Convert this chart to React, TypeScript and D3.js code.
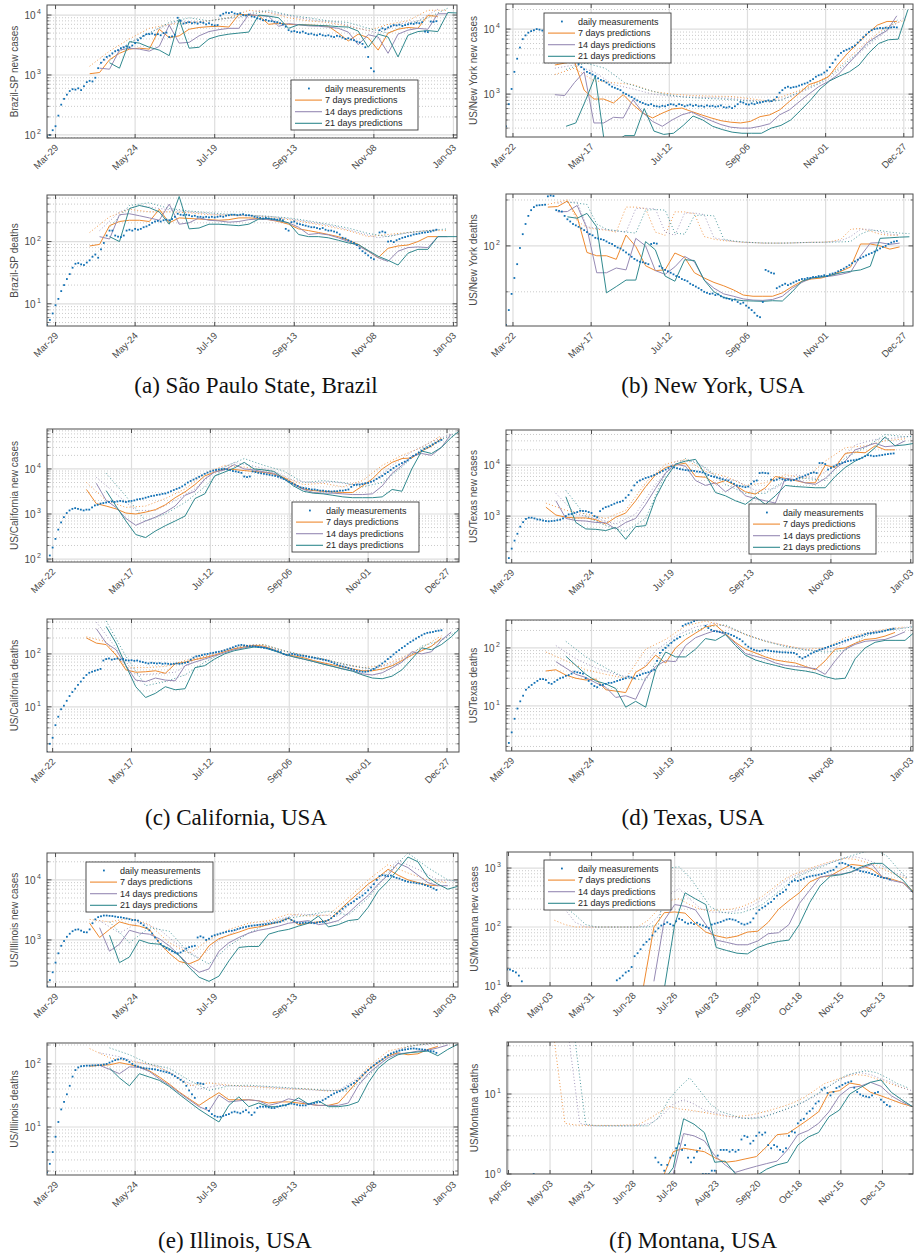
import React from 'react';
import * as d3 from 'd3';

// Daily measurements are listed every other day, starting at each panel's first date.
const OBS_STEP = 2;
// Prediction curves are listed weekly; the dotted upper curves use their own step.
const PRED_STEP = 7;

const LEGEND_LABELS = ['daily measurements', '7 days predictions', '14 days predictions', '21 days predictions'];

// ---------------- (a) São Paulo State, Brazil ----------------
const spStart = '2020-03-23';
const spTicks = ['2020-03-29', '2020-05-24', '2020-07-19', '2020-09-13', '2020-11-08', '2021-01-03'];

const spCasesObs = [95,100,120,140,210,320,400,470,540,580,570,600,560,650,760,800,780,900,1300,1600,1800,2000,2100,2300,2500,2600,2800,2900,3000,2900,3100,3400,3800,4100,4500,4800,4800,4900,4700,4800,4600,5000,5100,4300,4400,4700,9000,8000,7200,7400,7600,7300,7500,7200,7600,7400,7000,7300,6900,6700,6800,9800,10500,11000,10800,11200,10600,10400,10700,10000,9800,10200,9500,9300,8800,8600,8200,8300,8000,7900,7700,7600,7300,7000,6400,5600,5300,5400,5200,5100,5300,5000,4800,4900,4700,4600,4800,4600,4500,4600,4400,4300,4500,4400,4200,4000,4100,3900,3800,3600,3500,3300,2900,2000,1300,1150,null,5600,6000,5800,6200,6500,6800,6700,6900,6600,6800,7000,7200,7100,7400,7300,7600,5300,5200,7800,7700,7900];
const spCases7 = [1050,1100,1800,2300,2700,2800,2700,5800,4200,4500,5800,6200,6400,6500,6300,10300,10000,9800,7000,7300,7000,6900,6800,6700,6500,5000,3700,4800,4200,2600,5000,5800,6200,6000,9800,9500];
const spCases14 = [1300,1250,2600,2800,2700,2500,3000,6800,3400,3500,4500,5300,5700,6000,6000,10200,9800,9500,6500,7200,6900,6600,6500,6300,6000,5200,3200,4700,4300,2300,4800,5600,6000,5800,10500,10500];
const spCases21 = [1600,1300,3600,3400,2900,2600,2100,8500,2800,2900,4000,4500,4800,5000,5200,10000,9600,9000,6000,6900,6800,6700,6600,6400,6300,5400,2900,4800,4300,2000,4600,5300,5500,5300,11000,10800];
const spCases7Hi = [1400,2500,4000,6000,7000,7500,8000,9000,12000,11000,9000,8000,7500,6500,5500,7000,8000,12000,12000];
const spCases14Hi = [1500,2700,4200,6000,8000,7500,8500,9000,12000,10500,9000,8000,7500,6000,5000,7000,8000,12500];
const spCases21Hi = [1700,3500,5000,7500,9000,8000,9000,10000,12000,10000,9000,8000,7500,6000,5000,7000,9000,13000];
const spCasesPredFrom = [30, 37, 44];

const spDeathsObs = [4.6,5.5,7,9.5,12,16,20,25,30,38,44,45,43,42,46,50,57,62,55,75,95,125,150,150,125,120,118,125,150,155,150,160,155,160,170,175,185,200,210,215,210,220,225,220,230,250,280,270,265,270,265,255,260,250,250,245,250,245,250,245,250,255,250,260,265,270,270,265,270,275,265,265,260,250,245,240,235,240,235,230,230,225,230,220,160,150,205,210,195,190,185,180,175,170,170,165,160,165,155,150,150,145,140,130,115,112,105,100,95,88,78,70,65,60,55,52,null,140,145,140,100,102,98,105,110,115,118,122,125,130,132,135,138,140,142,145,150,155];
const spDeaths7 = [85,90,180,210,220,220,210,330,200,240,235,230,225,220,225,240,240,235,225,210,190,160,150,140,130,120,105,90,70,55,78,85,88,100,120,120];
const spDeaths14 = [120,110,270,280,260,240,220,400,190,200,240,220,215,205,210,225,230,225,215,200,170,130,135,128,115,100,85,70,55,48,70,80,82,80,120,120];
const spDeaths21 = [120,100,340,380,350,300,190,530,160,165,190,190,185,180,190,230,235,220,200,130,120,120,115,105,95,90,72,58,50,42,65,75,75,120,120,120];
const spDeaths7Hi = [140,250,330,300,300,290,270,265,260,250,225,200,175,150,120,130,140,150,150];
const spDeaths14Hi = [150,300,380,340,310,290,270,265,260,245,220,195,170,140,115,130,145,155];
const spDeaths21Hi = [170,380,420,340,310,290,275,265,255,240,215,190,165,135,120,140,150,160];
const spDeathsPredFrom = [30, 37, 44];

// ---------------- (b) New York, USA ----------------
const nyStart = '2020-03-17';
const nyTicks = ['2020-03-22', '2020-05-17', '2020-07-12', '2020-09-06', '2020-11-01', '2020-12-27'];

const nyCasesObs = [320,700,1200,2200,3500,5200,7000,8000,8800,9300,9600,10000,9800,9500,9000,8500,8000,7400,6800,6200,5600,5000,4500,4000,3600,3200,2900,2600,2400,2200,2100,2000,1900,1750,1650,1600,1500,1400,1300,1250,1200,1150,1050,1000,950,900,850,800,760,730,700,680,700,660,650,640,660,650,680,700,690,660,700,680,650,670,690,660,680,650,660,640,670,650,660,640,650,670,630,620,640,610,650,700,760,740,700,690,720,700,730,740,760,780,800,780,820,900,1050,1150,1250,1300,1250,1280,1300,1350,1400,1450,1500,1600,1700,1850,1950,2000,2150,2300,2600,3000,3400,3900,4300,4600,4800,5000,5300,5600,6200,6800,7500,8200,9000,9600,10000,10200,10400,10300,10500,10400,10600,10700,10600];
const nyCases7 = [2800,3000,3200,1150,840,840,730,980,690,510,430,510,590,610,540,480,430,390,370,360,380,450,480,570,770,1030,1400,1570,1840,2900,4300,6000,8500,11500,13100,13100];
const nyCases14 = [980,950,1500,2200,360,360,440,430,820,520,380,320,400,480,530,450,390,340,310,300,300,320,350,480,570,760,1000,1300,1570,2000,2900,4200,6200,7800,9500,16000];
const nyCases21 = [320,360,800,1900,150,180,230,230,600,270,240,250,330,460,400,320,285,260,250,250,250,300,330,400,560,800,1200,1600,1900,2200,2800,4300,6000,6850,7000,20000];
const nyCases7Hi = [2000,2500,1600,1500,1400,1100,1000,950,930,920,850,780,1000,1300,1900,3500,6500,11000,14000];
const nyCases14Hi = [2500,2800,2200,1400,1200,1000,930,900,880,860,800,750,900,1200,1700,3000,5500,9500,16000];
const nyCases21Hi = [2400,3000,2500,1500,1200,1000,900,860,840,800,760,800,1100,1500,2500,4500,8000,14000];
const nyCasesPredFrom = [35, 35, 43];

const nyDeathsObs = [1.9,4,9,20,40,90,180,300,450,600,700,760,770,780,790,1200,1250,1220,600,580,560,450,380,340,300,280,260,240,220,200,180,170,150,145,140,135,125,115,110,100,92,88,80,72,65,58,52,48,45,44,42,40,110,115,112,36,33,30,28,26,24,22,21,19,18,17,15,14,13,12,11,10,9.5,9,9.2,8.5,8.8,8,7.5,7.2,7,6.5,6.8,6,5.5,5.8,5,4.5,4,3.5,3,2.8,6,30,28,26,25,12,13,14,15,14,15,16,17,18,19,19,20,20,21,21,22,22,23,22,24,25,26,28,30,32,35,38,42,46,50,54,58,62,66,70,75,80,88,95,100,110,118,124,128];
const nyDeaths7 = [700,720,950,430,72,61,61,51,172,97,37,29,30,70,56,26,20,16,13.5,11,8.5,8,8,8,9.5,13,17,19,20,23,28,35,110,110,100,85,95];
const nyDeaths14 = [550,560,760,240,26,26,33,30,146,100,29,24,35,59,45,18,12,9,8,7,6.6,6.5,6.8,8,12,16,20,21,22,24,27,60,115,118,108,115];
const nyDeaths21 = [430,400,510,260,9.5,13,18,18,124,82,22,17,50,48,18,10,7.5,6.8,6.4,6.3,6.2,6.4,6.3,10,17,20,21,23,26,28,30,36,146,150,155,158];
const nyDeaths7Hi = [800,900,1000,350,250,230,220,200,700,700,650,200,170,550,550,500,160,140,130,125,120,118,115,115,115,116,118,120,120,125,140,230,240,210,180,170,170];
const nyDeaths14Hi = [850,900,900,260,240,225,210,200,650,660,640,200,170,520,520,480,150,135,125,120,118,115,115,115,116,118,120,120,122,130,160,230,230,200,180,175];
const nyDeaths21Hi = [900,850,800,300,230,215,200,190,600,620,600,190,180,460,470,450,140,128,122,118,116,115,115,116,118,119,120,121,122,125,180,220,215,200,190,185];
const nyDeathsPredFrom = [30, 37, 44];
// this axis shows a single labelled decade
const nyDeathsLabelled = [100];
const nyDeathsMinorGrid = [10, 1000];

// ---------------- (c) California, USA ----------------
const caStart = '2020-03-18';
const caTicks = ['2020-03-22', '2020-05-17', '2020-07-12', '2020-09-06', '2020-11-01', '2020-12-27'];

const caCasesObs = [90,120,180,280,450,650,850,1050,1200,1300,1350,1300,1250,1200,1250,1250,1400,1550,1600,1700,1750,1800,1850,1900,1850,1900,1950,1900,1850,1900,1950,2000,2100,2150,2200,2300,2400,2500,2550,2650,2700,2800,2850,3000,3200,3400,3600,3800,4100,4500,5000,5400,5800,6200,6700,7200,7800,8300,8800,9200,9500,9700,9900,10000,9800,9500,9000,8800,8500,8200,6800,6600,6800,8800,8500,8200,8000,7800,7600,7400,7200,7000,6700,6400,6000,5600,5200,4800,4500,4200,3900,3800,3700,3600,3500,3500,3400,3300,3300,3200,3200,3150,3200,3200,3300,3300,3400,3500,4000,4400,4500,4500,4600,4800,4900,5200,5500,6000,6500,7000,7800,8500,9500,10500,11500,12500,13500,14500,15500,17500,19500,21000,23000,25500,28000,30000,32000,35000,38000,41000,44000];
const caCases7 = [3500,1700,1500,1300,1050,1000,1100,1250,1600,2300,3100,4500,7000,8500,10000,9700,9200,8800,8400,7700,6500,4800,3600,3300,3200,3100,3000,3000,4200,6000,10000,14000,17000,17500,25000,32000,48000];
const caCases14 = [4800,2000,1400,800,560,700,850,1100,1500,2600,3200,6000,8500,9500,12500,10000,9500,8600,8000,6000,4500,3500,3000,2900,2900,2800,2700,2700,2800,4200,8000,12000,19000,22000,20000,30000,60000];
const caCases21 = [3300,1500,700,350,300,420,550,700,900,2200,2800,7000,8500,10500,14000,10000,9500,8800,6200,4200,3200,2900,2800,2600,2400,2300,2300,2300,2400,3500,3200,10000,25000,22000,30000,50000,75000];
const caCases7Hi = [5000,2000,1400,1500,2200,3600,8000,12000,11000,9500,6500,4500,4800,4000,5500,12000,20000,30000,55000];
const caCases14Hi = [6500,2800,1200,1200,2000,3600,9000,14000,11500,9000,5500,5000,5200,4500,5000,12000,24000,40000,60000];
const caCases21Hi = [8000,2500,700,1000,1800,4000,11000,17000,12000,9000,5000,5500,5000,4000,5000,11000,28000,45000,70000];
const caCasesPredFrom = [28, 35, 42];

const caDeathsObs = [1.4,2.0,2.6,4.5,6.5,9,10.5,13,16,19,22,26,30,35,40,44,46,48,50,52,75,80,82,78,80,82,78,80,76,75,76,74,75,72,70,68,66,68,67,66,67,65,66,65,64,65,66,65,66,68,70,78,85,90,92,95,98,100,103,105,108,110,113,117,122,127,133,140,145,148,145,142,140,140,138,135,133,130,128,125,120,116,112,108,100,96,98,100,98,95,93,92,90,88,86,84,82,80,78,76,74,70,66,63,60,58,56,54,52,50,48,47,46,46,47,49,52,56,60,66,72,80,88,98,108,118,130,140,155,168,180,195,210,225,240,250,255,260,270,275,280];
const caDeaths7 = [200,160,150,95,50,45,46,48,43,65,70,78,85,95,110,125,135,145,140,120,100,92,85,75,68,62,57,52,48,48,52,60,75,95,115,140,200];
const caDeaths14 = [300,160,120,60,32,30,35,32,31,60,70,80,92,105,120,130,140,135,118,98,88,80,72,65,58,52,48,42,40,44,55,70,110,100,110,180,260];
const caDeaths21 = [330,160,60,24,15,18,24,21,22,55,60,80,100,115,125,135,132,115,100,88,80,72,64,58,52,47,40,35,34,38,50,80,130,120,150,210,320];
const caDeaths7Hi = [210,170,55,55,58,75,90,120,145,150,115,95,80,65,55,60,85,130,220];
const caDeaths14Hi = [400,130,40,42,45,78,100,130,150,130,100,85,70,58,52,65,100,140,250];
const caDeaths21Hi = [420,90,25,30,40,70,110,140,150,115,95,80,65,55,50,70,140,180,300];
const caDeathsPredFrom = [28, 35, 42];

// ---------------- (d) Texas, USA ----------------
const txStart = '2020-03-25';
const txTicks = ['2020-03-29', '2020-05-24', '2020-07-19', '2020-09-13', '2020-11-08', '2021-01-03'];

const txCasesObs = [120,150,230,330,450,620,760,880,930,930,900,860,850,820,800,790,800,810,830,850,900,1000,1080,1100,1150,1200,1270,1260,1250,1200,1150,1000,950,1250,1400,1500,1550,1650,1750,1850,1900,2000,2300,2600,3200,4000,4600,5000,5300,5600,5800,6100,6400,6800,7200,7700,8200,8800,9500,9000,8700,8400,8200,8000,7900,7800,7700,7500,7400,7200,6800,6400,6100,5900,5700,5500,5300,5100,5000,4600,4300,4000,3900,3800,3700,3800,4300,4800,5000,7000,7100,7000,6900,5200,5000,5200,5500,5300,5100,5200,5000,5100,5400,5700,5900,6300,6600,7000,7200,7000,11000,11000,10500,8200,8800,9400,10000,10600,11000,11500,12000,12300,12500,12800,13300,14000,15000,15700,15400,15000,15200,15500,15800,16200,16500,16800,17000];
const txCases7 = [1500,1050,950,920,920,850,700,950,1150,2000,3800,6500,9000,10000,11000,6000,5800,4300,5000,4000,3000,2700,3600,6000,5500,5000,4500,4500,10000,9000,17000,18000,17500,24000,20000,20000];
const txCases14 = [2000,900,820,800,750,740,560,750,900,1700,3500,7000,10500,9500,5000,4000,4500,3000,4000,2500,2200,2000,1800,5500,5200,4500,4200,5500,8500,12000,20000,23000,27000,23000,24000,30000];
const txCases21 = [2400,750,560,550,520,600,350,620,650,2300,5500,10500,12000,13000,6500,2900,2500,2000,1700,2400,1700,2500,4000,3800,3700,3600,3600,6000,9000,12000,15000,22000,36000,24000,25000,27000];
const txCases7Hi = [1800,1300,1100,900,1300,4500,10500,13000,7500,6000,4000,4500,6500,5500,12000,22000,24000,30000,33000];
const txCases14Hi = [2800,1100,900,700,1100,4200,12000,12000,6000,5000,3200,3500,6500,5500,10000,25000,32000,34000,38000];
const txCases21Hi = [3200,1000,650,500,900,7000,13500,9000,4200,2800,2800,5000,5500,5000,14000,22000,40000,36000,38000];
const txCasesPredFrom = [28, 35, 42];

const txDeathsObs = [1.6,2.3,3.5,6,9,12,15,19,21,23,25,27,29,29,28,25,24,26,28,30,31,33,34,36,39,38,37,36,30,27,24,22,21,23,23,24,25,25,26,27,28,29,30,32,31,30,33,34,36,37,38,40,42,60,82,92,100,110,122,135,145,155,240,255,265,275,290,305,310,312,240,220,205,195,192,188,185,182,176,168,160,150,142,130,115,105,98,93,90,88,90,92,90,88,87,86,85,84,84,83,83,82,78,70,66,70,74,80,84,88,93,96,100,104,108,112,117,122,128,133,138,144,150,154,158,164,172,178,180,183,185,188,192,198,205,210,215];
const txDeaths7 = [40,42,34,30,28,29,19,18,17,38,48,75,55,100,140,180,230,250,175,125,95,82,70,62,58,55,48,42,60,95,100,120,140,145,160,185];
const txDeaths14 = [58,45,35,31,25,21,14,15,13,30,48,60,58,110,150,175,200,170,120,80,72,65,55,50,48,46,44,35,60,95,115,130,135,140,160,190];
const txDeaths21 = [72,50,35,27,24,20,9.5,12,9.5,42,85,70,70,95,145,135,170,110,75,62,55,50,45,42,40,37,32,29,30,65,100,125,135,135,135,190];
const txDeaths7Hi = [85,60,42,35,30,95,140,240,290,240,170,130,110,95,100,150,180,210,230];
const txDeaths14Hi = [110,65,45,35,30,90,160,230,270,200,150,120,100,90,100,150,190,210,240];
const txDeaths21Hi = [130,70,45,30,28,110,170,230,250,170,130,105,92,85,90,160,200,220,250];
const txDeathsPredFrom = [28, 35, 42];

// ---------------- (e) Illinois, USA ----------------
const ilStart = '2020-03-23';
const ilTicks = ['2020-03-29', '2020-05-24', '2020-07-19', '2020-09-13', '2020-11-08', '2021-01-03'];

const ilCasesObs = [170,215,290,420,600,800,960,1130,1270,1400,1480,1500,1430,1350,1340,1500,1900,2200,2400,2480,2550,2550,2520,2500,2450,2400,2380,2330,2280,2220,2150,2150,2100,1900,1750,1600,1450,1280,1100,970,860,780,730,690,650,620,600,620,660,720,760,780,800,1100,1150,1100,1000,1050,1150,1200,1240,1280,1320,1360,1400,1420,1460,1520,1570,1620,1660,1700,1730,1750,1770,1790,1810,1830,1860,1900,1930,1960,2000,2100,2200,2300,2150,2050,1950,1900,1920,1950,1950,1920,1900,1950,1980,2000,2050,2150,2300,2500,2750,3000,3300,3600,3900,4100,4400,4800,5100,5500,6000,6700,7500,8500,10000,11500,12000,11800,11500,11800,11200,10800,10500,10000,9600,9300,9100,9000,8800,8700,8500,8200,7900,7600,7200,6800];
const ilCases7 = [1900,1100,1500,2000,1800,1700,1500,900,600,440,400,470,800,1050,1200,1350,1550,1650,1800,2000,2300,1800,1900,2000,2100,3000,4300,6000,8500,11000,15000,12000,10000,9000,8200,8000];
const ilCases14 = [1600,650,850,1450,1300,1250,1050,800,560,380,290,330,650,900,1100,1300,1450,1550,1700,1900,2000,2100,1800,1900,2100,2800,4000,5500,8500,12000,19000,16000,12000,9000,8000,8000];
const ilCases21 = [1200,420,520,1000,880,850,720,550,350,240,205,250,450,750,780,780,1250,1400,1500,1700,1900,2500,1650,1800,2100,2200,3500,6500,9500,15000,24000,20000,11000,8500,7000,7800];
const ilCases7Hi = [2200,2000,2300,1800,900,600,1000,1500,1900,2100,2700,2500,2600,5000,10000,18000,13000,10000,9000];
const ilCases14Hi = [2100,1300,2000,1500,800,500,1000,1500,1800,2200,2700,2600,2500,5500,10000,21000,15000,10000,9500];
const ilCases21Hi = [2000,900,1600,1400,600,400,800,1300,1900,2300,2600,3000,2600,5000,13000,28000,16000,10000,9000];
const ilCasesPredFrom = [30, 37, 44];

const ilDeathsObs = [1.9,2.6,4,7,12,19,25,33,45,63,80,88,92,93,94,94,95,95,96,96,98,100,105,110,115,118,122,120,115,108,100,94,91,88,86,85,84,83,82,80,78,76,74,72,68,64,60,56,52,45,38,33,29,50,49,48,20,18,16,15,14.5,14.5,15,15.5,16,17,17.5,17,16.5,17.5,18.5,17,15.5,17,20,21,21,21,20.5,20,20,21,21.5,22,22,23,23.5,23,22.5,22,22,22,23,23.5,24,24.5,25,26.5,28,30,32,34,35.5,37,39,41,44,47,50,54,59,66,73,80,88,95,103,110,118,128,138,146,152,157,163,166,169,172,175,176,174,172,170,168,165,160,158,150];
const ilDeaths7 = [92,95,97,105,98,90,78,62,48,36,28,22,28,35,27,27,27,26,24,25,25,24,23,22,22,24,36,55,80,105,135,150,140,145,170,190];
const ilDeaths14 = [95,82,70,90,88,76,58,46,35,27,21,18,32,25,26,27,26,22,24,28,26,23,22,22,22,24,45,70,95,125,145,150,160,165,180,200];
const ilDeaths21 = [86,60,45,70,62,55,44,33,25,19,15,12,22,30,21,24,21,21,23,29,23,26,21,21,22,25,50,85,115,140,150,155,160,135,170,205];
const ilDeaths7Hi = [175,125,110,100,75,45,50,46,44,42,40,40,37,40,90,160,190,210,220];
const ilDeaths14Hi = [150,130,105,90,60,40,46,44,44,42,40,38,38,60,110,170,200,210,220];
const ilDeaths21Hi = [180,140,100,85,55,38,45,46,44,42,40,38,37,65,130,190,210,215,230];
const ilDeathsPredFrom = [30, 37, 44];

// ---------------- (f) Montana, USA ----------------
const mtStart = '2020-04-04';
const mtTicks = ['2020-04-05', '2020-05-03', '2020-05-31', '2020-06-28', '2020-07-26', '2020-08-23', '2020-09-20', '2020-10-18', '2020-11-15', '2020-12-13'];

const mtCasesObs = [19,19,18,17,15,12,
  null,null,null,null,null,null,null,null,null,null,null,null,null,null,null,null,null,null,null,null,null,null,null,null,null,null,null,null,null,null,null,
  12.5,13.5,15,17,18,21,32,36,42,50,56,62,72,84,95,106,112,120,112,106,125,138,132,120,114,118,112,118,110,106,100,96,110,114,118,122,128,134,137,134,130,122,114,110,114,120,140,170,195,212,225,250,265,300,340,365,390,430,520,590,620,605,630,660,700,720,740,750,770,790,820,860,900,930,1050,1200,1220,1180,1120,1050,1000,940,890,870,850,830,790,760,730,700,680,670,640];
const mtCases7 = [10,100,175,180,172,115,82,71,65,70,82,85,120,200,280,380,580,700,740,930,1150,1100,950,700,640,560,400];
const mtCases14 = [12,130,240,225,195,110,60,55,50,50,58,77,80,110,250,420,700,760,790,850,1000,1150,700,610,560,370];
const mtCases21 = [9,110,380,300,240,45,40,36,35,45,52,57,60,110,260,500,730,770,860,1050,1200,1200,850,620,380];
const mtCases7Hi = [130,110,100,100,100,100,100,100,100,130,200,280,300,240,200,190,195,200,220,260,330,450,620,780,900,1050,1200,1350,1450,1400,1250,1100,900,750,650];
const mtCases14Hi = [200,120,100,100,100,100,100,100,105,150,350,450,300,210,180,175,180,200,230,290,400,560,720,850,1000,1150,1300,1500,1550,1400,1200,1000,800,700];
const mtCases21Hi = [260,220,160,110,100,100,100,100,100,100,110,1000,1050,700,400,220,180,170,175,200,240,330,450,650,800,950,1100,1300,1500,1700,1900,2000,1600,1000,650];
const mtCasesPredFrom = [92, 99, 106];
const mtCasesHiFrom = [32, 39, 32];

const mtDeathsObs = [null,null,null,null,null,null,null,null,null,1.0,
  null,null,null,null,null,null,null,null,null,null,null,null,null,null,null,null,null,null,null,null,null,null,null,null,null,null,null,null,null,null,null,null,null,null,null,null,null,null,null,null,
  1.6,1.4,1.3,1.1,1.3,1.6,1.7,2.1,2.4,2.0,2.3,1.6,1.4,1.6,1.9,2.1,1.0,1.0,1.0,1.1,1.1,1.7,2.0,2.0,2.0,1.9,2.0,1.9,2.0,2.7,3.0,2.9,2.4,2.6,3.0,3.3,3.1,3.3,2.3,2.1,2.3,2.2,2.0,1.9,2.1,3.0,3.4,3.3,4.3,4.7,4.9,5.7,6.1,6.6,7.6,8.1,11.4,12,10.3,9.6,10.6,11.9,12.4,13,13.6,14,14.4,12,10.6,9.9,9.5,9.3,9.1,9.6,10.3,10.6,8.5,7.9,7.3,7.0];
const mtDeaths7 = [0.9,1.9,2.1,2.0,1.9,1.6,1.4,1.45,1.55,1.65,2.2,3.1,3.2,3.9,4.8,6,10.5,11,13.7,13,10.5,9.5,8.5,7.6,7];
const mtDeaths14 = [1.0,3.2,3.0,2.6,1.7,1.3,1.05,1.15,1.25,1.35,1.45,2.0,3.1,3.5,4.3,6,9.5,12,12.5,14,12.5,9.5,8,7];
const mtDeaths21 = [0.8,1.2,4.9,4.2,3.3,1.4,1.45,1.0,0.9,0.95,1.15,1.3,1.4,2.3,2.9,3.3,5.2,6.3,10,12,14,15,10.5,8.5,7];
const mtDeaths7Hi = [45,4.3,4.1,4.05,4.05,4.05,4.05,4.1,4.1,4.8,5.8,7.0,6.5,6.3,6.0,5.7,5.4,5.2,5.3,5.5,5.9,6.4,7.0,7.8,9,11,13.5,15,16.5,17.5,17,15.5,14,12.5,11.5];
const mtDeaths14Hi = [45,4.3,4.0,4.0,4.0,4.0,4.0,4.1,4.4,5.5,7.5,8.5,7.5,6.3,5.8,5.4,5.1,5.0,5.1,5.4,5.9,6.5,7.3,8.5,10,12.5,15,17.5,18.5,17.5,15.5,14,12,11];
const mtDeaths21Hi = [45,4.2,4.0,4.0,4.0,4.0,4.0,4.0,5.0,8.5,12,16,11,7.5,6.0,5.5,5.0,4.9,5.1,5.6,6.3,7.0,8.0,9.5,11.5,14,17,18.5,19.5,18.5,16,13.5,12];
const mtDeathsPredFrom = [105, 112, 105];
const mtDeathsHiFrom = [32, 42, 46];

// ---------------- styling ----------------
const COL_OBS = '#1170b4';
const COL_PRED = ['#ee8a30', '#968ab4', '#30898e'];
const AXIS_COL = '#4f4f4f';
const TEXT_COL = '#4a4a4a';
const SANS = '"Liberation Sans", Arial, Helvetica, sans-serif';
const SERIF = '"Liberation Serif", "Times New Roman", serif';
const DAY = 86400000;

type Val = number | null;
interface PanelSpec {
  key: string;
  start: string; span: number; ticks: string[];
  x0: number; x1: number; y0: number; y1: number;
  yMin: number; yMax: number; ylabel: string;
  obs: Val[];
  pred: number[][]; predFrom: number[];
  hi: number[][]; hiFrom: number[]; hiStep: number;
  legend?: [number, number];
  labelled?: number[]; minorGrid?: number[];
}

const L = { x0: 47, x1: 458 };
const R = { x0: 506, x1: 913 };

const panels: PanelSpec[] = [
  { key: 'spc', start: spStart, span: 288.5, ticks: spTicks, x0: 47, x1: 457, y0: 5, y1: 138, yMin: 89, yMax: 14700, ylabel: 'Brazil-SP new cases',
    obs: spCasesObs, pred: [spCases7, spCases14, spCases21], predFrom: spCasesPredFrom,
    hi: [spCases7Hi, spCases14Hi, spCases21Hi], hiFrom: spCasesPredFrom, hiStep: 14, legend: [291, 80] },
  { key: 'spd', start: spStart, span: 288.5, ticks: spTicks, x0: 47, x1: 457, y0: 195, y1: 326, yMin: 4.4, yMax: 560, ylabel: 'Brazil-SP deaths',
    obs: spDeathsObs, pred: [spDeaths7, spDeaths14, spDeaths21], predFrom: spDeathsPredFrom,
    hi: [spDeaths7Hi, spDeaths14Hi, spDeaths21Hi], hiFrom: spDeathsPredFrom, hiStep: 14 },
  { key: 'nyc', start: nyStart, span: 291.6, ticks: nyTicks, ...R, y0: 4, y1: 137, yMin: 219, yMax: 24300, ylabel: 'US/New York new cases',
    obs: nyCasesObs, pred: [nyCases7, nyCases14, nyCases21], predFrom: nyCasesPredFrom,
    hi: [nyCases7Hi, nyCases14Hi, nyCases21Hi], hiFrom: nyCasesPredFrom, hiStep: 14, legend: [544, 13] },
  { key: 'nyd', start: nyStart, span: 291.6, ticks: nyTicks, ...R, y0: 194, y1: 326, yMin: 1.8, yMax: 1350, ylabel: 'US/New York deaths',
    obs: nyDeathsObs, pred: [nyDeaths7, nyDeaths14, nyDeaths21], predFrom: nyDeathsPredFrom,
    hi: [nyDeaths7Hi, nyDeaths14Hi, nyDeaths21Hi], hiFrom: nyDeathsPredFrom, hiStep: 7,
    labelled: nyDeathsLabelled, minorGrid: nyDeathsMinorGrid },
  { key: 'cac', start: caStart, span: 292.5, ticks: caTicks, x0: 47, x1: 459, y0: 429, y1: 562, yMin: 86, yMax: 77000, ylabel: 'US/California new cases',
    obs: caCasesObs, pred: [caCases7, caCases14, caCases21], predFrom: caCasesPredFrom,
    hi: [caCases7Hi, caCases14Hi, caCases21Hi], hiFrom: caCasesPredFrom, hiStep: 14, legend: [292, 502] },
  { key: 'cad', start: caStart, span: 292.5, ticks: caTicks, x0: 47, x1: 459, y0: 619, y1: 752, yMin: 1.4, yMax: 457, ylabel: 'US/California deaths',
    obs: caDeathsObs, pred: [caDeaths7, caDeaths14, caDeaths21], predFrom: caDeathsPredFrom,
    hi: [caDeaths7Hi, caDeaths14Hi, caDeaths21Hi], hiFrom: caDeathsPredFrom, hiStep: 14 },
  { key: 'txc', start: txStart, span: 285.6, ticks: txTicks, ...R, y0: 430, y1: 563, yMin: 120, yMax: 49000, ylabel: 'US/Texas new cases',
    obs: txCasesObs, pred: [txCases7, txCases14, txCases21], predFrom: txCasesPredFrom,
    hi: [txCases7Hi, txCases14Hi, txCases21Hi], hiFrom: txCasesPredFrom, hiStep: 14, legend: [749, 504] },
  { key: 'txd', start: txStart, span: 285.6, ticks: txTicks, ...R, y0: 620, y1: 751, yMin: 1.67, yMax: 303, ylabel: 'US/Texas deaths',
    obs: txDeathsObs, pred: [txDeaths7, txDeaths14, txDeaths21], predFrom: txDeathsPredFrom,
    hi: [txDeaths7Hi, txDeaths14Hi, txDeaths21Hi], hiFrom: txDeathsPredFrom, hiStep: 14 },
  { key: 'ilc', start: ilStart, span: 289.2, ticks: ilTicks, ...L, y0: 853, y1: 987, yMin: 165, yMax: 28000, ylabel: 'US/Illinois new cases',
    obs: ilCasesObs, pred: [ilCases7, ilCases14, ilCases21], predFrom: ilCasesPredFrom,
    hi: [ilCases7Hi, ilCases14Hi, ilCases21Hi], hiFrom: ilCasesPredFrom, hiStep: 14, legend: [86, 862] },
  { key: 'ild', start: ilStart, span: 289.2, ticks: ilTicks, ...L, y0: 1043, y1: 1175, yMin: 1.73, yMax: 215, ylabel: 'US/Illinois deaths',
    obs: ilDeathsObs, pred: [ilDeaths7, ilDeaths14, ilDeaths21], predFrom: ilDeathsPredFrom,
    hi: [ilDeaths7Hi, ilDeaths14Hi, ilDeaths21Hi], hiFrom: ilDeathsPredFrom, hiStep: 14 },
  { key: 'mtc', start: mtStart, span: 273.6, ticks: mtTicks, x0: 507, x1: 913, y0: 852, y1: 986, yMin: 10, yMax: 1870, ylabel: 'US/Montana new cases',
    obs: mtCasesObs, pred: [mtCases7, mtCases14, mtCases21], predFrom: mtCasesPredFrom,
    hi: [mtCases7Hi, mtCases14Hi, mtCases21Hi], hiFrom: mtCasesHiFrom, hiStep: 7, legend: [544, 860] },
  { key: 'mtd', start: mtStart, span: 273.6, ticks: mtTicks, x0: 507, x1: 913, y0: 1042, y1: 1174, yMin: 1, yMax: 44.7, ylabel: 'US/Montana deaths',
    obs: mtDeathsObs, pred: [mtDeaths7, mtDeaths14, mtDeaths21], predFrom: mtDeathsPredFrom,
    hi: [mtDeaths7Hi, mtDeaths14Hi, mtDeaths21Hi], hiFrom: mtDeathsHiFrom, hiStep: 7 },
];

const captions: [string, number, number][] = [
  ['(a) São Paulo State, Brazil', 256, 393],
  ['(b) New York, USA', 713, 393],
  ['(c) California, USA', 236, 825],
  ['(d) Texas, USA', 693, 825],
  ['(e) Illinois, USA', 235, 1248],
  ['(f) Montana, USA', 693, 1248],
];

const parseDay = d3.utcParse('%Y-%m-%d');
const fmtTick = d3.utcFormat('%b-%d');

function Panel({ p }: { p: PanelSpec }) {
  const t0 = parseDay(p.start)!;
  const toDate = (d: number) => new Date(t0.getTime() + d * DAY);
  const x = d3.scaleUtc().domain([t0, toDate(p.span)]).range([p.x0, p.x1]);
  const y = d3.scaleLog().domain([p.yMin, p.yMax]).range([p.y1, p.y0]);
  const px = (d: number) => x(toDate(d));

  const series = (vals: Val[], from: number, step: number): [number, Val][] =>
    vals.map((v, i) => [from + i * step, v]);
  const line = d3.line<[number, Val]>()
    .defined((d) => d[1] != null && (d[1] as number) > 0)
    .x((d) => px(d[0]))
    .y((d) => y(d[1] as number));

  const lo = Math.log10(p.yMin);
  const hi = Math.log10(p.yMax);
  const decades = d3.range(Math.ceil(lo - 1e-9), Math.floor(hi + 1e-9) + 1).map((k) => Math.pow(10, k));
  const labelled = p.labelled ?? decades;
  let minor: number[] = [];
  if (p.minorGrid) minor = p.minorGrid;
  else {
    for (let k = Math.floor(lo); k <= Math.floor(hi); k++) {
      for (let m = 2; m <= 9; m++) {
        const v = m * Math.pow(10, k);
        if (v > p.yMin * 1.001 && v < p.yMax * 0.999) minor.push(v);
      }
    }
  }
  const tickDates = p.ticks.map((s) => parseDay(s)!);
  const clipId = `clip-${p.key}`;
  const w = p.x1 - p.x0;
  const h = p.y1 - p.y0;

  return (
    <g>
      <defs>
        <clipPath id={clipId}>
          <rect x={p.x0} y={p.y0} width={w} height={h} />
        </clipPath>
      </defs>
      <rect x={p.x0} y={p.y0} width={w} height={h} fill="#fff" />
      {/* grid */}
      <g clipPath={`url(#${clipId})`}>
        {minor.map((v) => (
          <line key={`mn${v}`} x1={p.x0} x2={p.x1} y1={y(v)} y2={y(v)} stroke="#bdbdbd" strokeWidth={0.8} strokeDasharray="1 2" />
        ))}
        {labelled.map((v) => (
          <line key={`mj${v}`} x1={p.x0} x2={p.x1} y1={y(v)} y2={y(v)} stroke="#dedede" strokeWidth={1.2} />
        ))}
        {tickDates.map((t, i) => (
          <line key={`vx${i}`} x1={x(t)} x2={x(t)} y1={p.y0} y2={p.y1} stroke="#dedede" strokeWidth={1.2} />
        ))}
      </g>
      {/* data */}
      <g clipPath={`url(#${clipId})`}>
        {p.hi.map((vals, k) => (
          <path key={`hi${k}`} d={line(series(vals, p.hiFrom[k], p.hiStep)) ?? ''} fill="none"
            stroke={COL_PRED[k]} strokeWidth={1} strokeDasharray="1 2.2" opacity={0.85} />
        ))}
        {p.pred.map((vals, k) => (
          <path key={`pr${k}`} d={line(series(vals, p.predFrom[k], PRED_STEP)) ?? ''} fill="none"
            stroke={COL_PRED[k]} strokeWidth={1} />
        ))}
        {p.obs.map((v, i) =>
          v == null ? null : (
            <rect key={`o${i}`} x={px(i * OBS_STEP) - 0.9} y={y(v) - 0.9} width={1.8} height={1.8} fill={COL_OBS} />
          )
        )}
      </g>
      {/* axes box and ticks */}
      <rect x={p.x0} y={p.y0} width={w} height={h} fill="none" stroke={AXIS_COL} strokeWidth={1} />
      {tickDates.map((t, i) => (
        <g key={`xt${i}`}>
          <line x1={x(t)} x2={x(t)} y1={p.y1} y2={p.y1 - 4} stroke={AXIS_COL} />
          <line x1={x(t)} x2={x(t)} y1={p.y0} y2={p.y0 + 4} stroke={AXIS_COL} />
          <text transform={`translate(${x(t) + 1},${p.y1 + 8}) rotate(-45)`} textAnchor="end" dy="0.35em"
            fontSize={9.5} fill={TEXT_COL} fontFamily={SANS}>{fmtTick(t)}</text>
        </g>
      ))}
      {minor.map((v) => (
        <g key={`mt${v}`}>
          <line x1={p.x0} x2={p.x0 + 2.5} y1={y(v)} y2={y(v)} stroke={AXIS_COL} strokeWidth={0.8} />
          <line x1={p.x1} x2={p.x1 - 2.5} y1={y(v)} y2={y(v)} stroke={AXIS_COL} strokeWidth={0.8} />
        </g>
      ))}
      {labelled.map((v) => (
        <g key={`yt${v}`}>
          <line x1={p.x0} x2={p.x0 + 4.5} y1={y(v)} y2={y(v)} stroke={AXIS_COL} />
          <line x1={p.x1} x2={p.x1 - 4.5} y1={y(v)} y2={y(v)} stroke={AXIS_COL} />
          <text x={p.x0 - 6} y={y(v)} dy="0.38em" textAnchor="end" fontSize={10} fill={TEXT_COL} fontFamily={SANS}>
            10<tspan dx={1.5} dy={-4.5} fontSize={7}>{Math.round(Math.log10(v))}</tspan>
          </text>
        </g>
      ))}
      <text transform={`translate(${p.x0 - 29},${(p.y0 + p.y1) / 2}) rotate(-90)`} textAnchor="middle"
        fontSize={10} fill={TEXT_COL} fontFamily={SANS}>{p.ylabel}</text>
      {p.legend && <Legend at={p.legend} />}
    </g>
  );
}

function Legend({ at }: { at: [number, number] }) {
  const [lx, ly] = at;
  const rowY = (i: number) => ly + 8.5 + i * 11.6;
  return (
    <g fontFamily={SANS} fontSize={9}>
      <rect x={lx} y={ly} width={127} height={50} fill="#fff" stroke="#3c3c3c" strokeWidth={0.9} />
      {LEGEND_LABELS.map((lab, i) => (
        <g key={lab}>
          {i === 0 ? (
            <rect x={lx + 17} y={rowY(i) - 0.9} width={1.8} height={1.8} fill={COL_OBS} />
          ) : (
            <line x1={lx + 4} x2={lx + 31} y1={rowY(i)} y2={rowY(i)} stroke={COL_PRED[i - 1]} strokeWidth={1.1} />
          )}
          <text x={lx + 34} y={rowY(i)} dy="0.35em" fill="#262626">{lab}</text>
        </g>
      ))}
    </g>
  );
}

export default function App() {
  return (
    <svg width={915} height={1257} viewBox="0 0 915 1257"
      style={{ position: 'absolute', left: 0, top: 0, background: '#fff' }}>
      <rect x={0} y={0} width={915} height={1257} fill="#fff" />
      {panels.map((p) => (
        <Panel key={p.key} p={p} />
      ))}
      {captions.map(([t, cx, cy]) => (
        <text key={t} x={cx} y={cy} textAnchor="middle" fontFamily={SERIF} fontSize={23} fill="#111">{t}</text>
      ))}
    </svg>
  );
}
